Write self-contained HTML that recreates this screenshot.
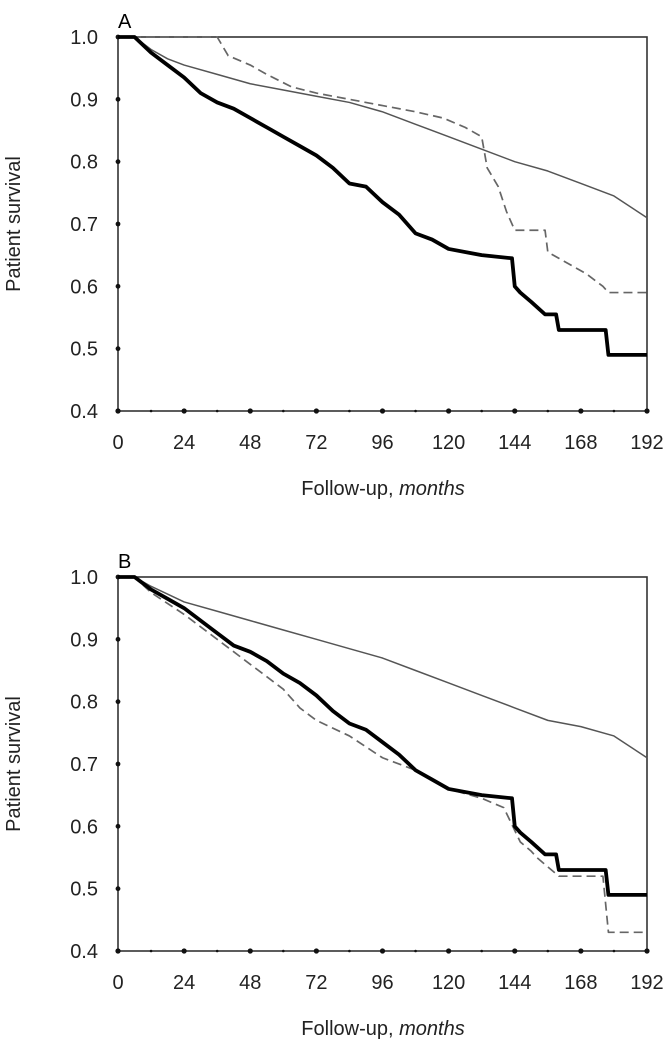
<!DOCTYPE html>
<html><head><meta charset="utf-8"><style>
body{margin:0;background:#fff;}
svg{display:block;font-family:"Liberation Sans",Arial,sans-serif;}
</style></head><body>
<svg id="c" width="667" height="1045"></svg>
<script>
const xTicks=[0,24,48,72,96,120,144,168,192];
const yTicks=[0.4,0.5,0.6,0.7,0.8,0.9,1.0];
const aThickT=[0,6,12,18,24,30,36,42,48,54,60,66,72,78,84,90,96,102,108,114,120,132,143,144,146,150,155,159,160,177,178,192];
const aThickV=[1,1,0.975,0.955,0.935,0.91,0.895,0.885,0.87,0.855,0.84,0.825,0.81,0.79,0.765,0.76,0.735,0.715,0.685,0.675,0.66,0.65,0.645,0.6,0.59,0.575,0.555,0.555,0.53,0.53,0.49,0.49];
const aThinT=[0,6,12,18,24,36,48,60,72,84,96,108,120,132,144,156,168,180,192];
const aThinV=[1,1,0.98,0.965,0.955,0.94,0.925,0.915,0.905,0.895,0.88,0.86,0.84,0.82,0.8,0.785,0.765,0.745,0.71];
const aDashT=[0,36,40,48,54,63,72,84,96,108,118,126,132,134,138,141,144,155,156,164,170,176,178,192];
const aDashV=[1,1,0.97,0.955,0.94,0.92,0.91,0.9,0.89,0.88,0.87,0.855,0.84,0.79,0.76,0.72,0.69,0.69,0.655,0.635,0.62,0.6,0.59,0.59];
const bThickT=[0,6,12,18,24,30,36,42,48,54,60,66,72,78,84,90,96,102,108,114,120,132,143,144,146,150,155,159,160,177,178,192];
const bThickV=[1,1,0.98,0.965,0.95,0.93,0.91,0.89,0.88,0.865,0.845,0.83,0.81,0.785,0.765,0.755,0.735,0.715,0.69,0.675,0.66,0.65,0.645,0.6,0.59,0.575,0.555,0.555,0.53,0.53,0.49,0.49];
const bThinT=[0,6,12,24,36,48,60,72,84,96,108,120,132,144,156,168,180,192];
const bThinV=[1,1,0.985,0.96,0.945,0.93,0.915,0.9,0.885,0.87,0.85,0.83,0.81,0.79,0.77,0.76,0.745,0.71];
const bDashT=[0,6,12,24,36,48,54,60,66,72,84,96,108,120,132,140,146,150,152,160,176,178,192];
const bDashV=[1,1,0.975,0.94,0.9,0.86,0.84,0.82,0.79,0.77,0.745,0.71,0.69,0.66,0.645,0.63,0.575,0.56,0.55,0.52,0.52,0.43,0.43];
const NS='http://www.w3.org/2000/svg';
const svg=document.getElementById('c');
function mk(tag,attrs,parent){const e=document.createElementNS(NS,tag);for(const k in attrs)e.setAttribute(k,attrs[k]);(parent||svg).appendChild(e);return e;}
function panel(id,letter,top,series){
  const L=118,R=647,T=top,B=top+374;
  const xs=m=>L+(R-L)*m/192, ys=v=>T+(1-v)*(B-T)/0.6;
  const g=mk('g',{});
  
  
  const lt=mk('text',{x:L,y:T-9,'font-size':20},g);lt.textContent=letter;
  
  
  const fr=mk('rect',{x:L,y:T,width:R-L,height:B-T,fill:'none',stroke:'#333','stroke-width':1.6},g);
  
  
  for(let m=0;m<=192;m+=12){const big=m%24===0;mk('circle',{cx:xs(m),cy:B,r:big?2.6:1.3,fill:'#111'},g);}
  xTicks.forEach(m=>{const t=mk('text',{x:xs(m),y:B+38,'font-size':20,'text-anchor':'middle',fill:'#222'},g);t.textContent=m;
    
    });
  yTicks.forEach(v=>{mk('circle',{cx:L,cy:ys(v),r:2.4,fill:'#111'},g);
    const t=mk('text',{x:98,y:ys(v)+7,'font-size':20,'text-anchor':'end',fill:'#222'},g);t.textContent=v.toFixed(1);
    
    });
  const xt=mk('text',{x:383,y:B+84,'font-size':20,'text-anchor':'middle',fill:'#222'},g);
  xt.innerHTML='Follow-up, <tspan font-style="italic">months</tspan>';
  
  
  const yt=mk('text',{x:0,y:0,'font-size':20,'text-anchor':'middle',fill:'#222',transform:`translate(20,${(T+B)/2}) rotate(-90)`},g);
  yt.textContent='Patient survival';
  
  
  series.forEach(s=>{
    let d='M'+xs(s.t[0])+','+ys(s.v[0]);
    for(let i=1;i<s.t.length;i++){d+=' L'+xs(s.t[i])+','+ys(s.v[i]);}
    const p=mk('path',{d:d,fill:'none',stroke:s.c,'stroke-width':s.w,'stroke-dasharray':s.dash||'none','stroke-linejoin':'round'},g);
    
    
  });
}
panel('a','A',37,[
 {t:aThinT,v:aThinV,c:'#555',w:1.5,name:'thin-survival-line-a'},
 {t:aDashT,v:aDashV,c:'#666',w:1.7,dash:'9,5',name:'dashed-survival-line-a'},
 {t:aThickT,v:aThickV,c:'#000',w:3.8,name:'thick-survival-line-a'}]);
panel('b','B',577,[
 {t:bThinT,v:bThinV,c:'#555',w:1.5,name:'thin-survival-line-b'},
 {t:bDashT,v:bDashV,c:'#666',w:1.7,dash:'9,5',name:'dashed-survival-line-b'},
 {t:bThickT,v:bThickV,c:'#000',w:3.8,name:'thick-survival-line-b'}]);
</script>
</body></html>
